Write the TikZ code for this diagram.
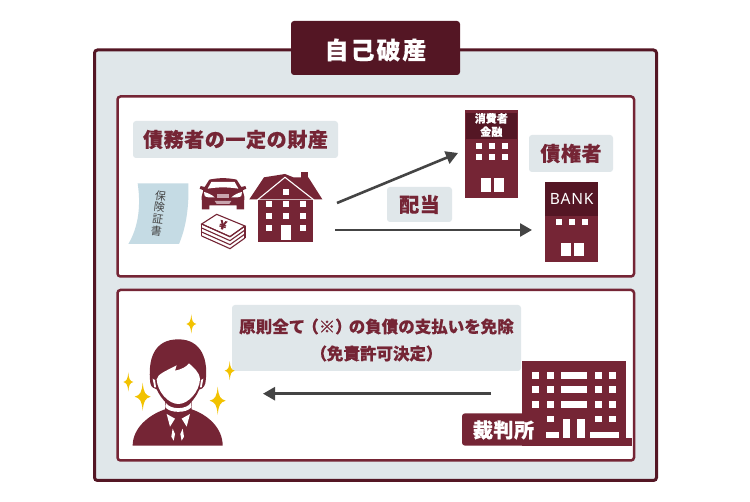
\documentclass[tikz,border=0pt]{standalone}
\usepackage{fontspec}
\setmainfont[BoldFeatures={FakeBold=0.4}]{Noto Sans CJK JP}
\newfontfamily\wide[LetterSpace=3,BoldFeatures={FakeBold=0.4}]{Noto Sans CJK JP}
\newfontfamily\wider[LetterSpace=8,BoldFeatures={FakeBold=0.4}]{Noto Sans CJK JP}
\newfontfamily\latin[LetterSpace=5,BoldFeatures={FakeBold=0.3}]{Noto Sans}
\usetikzlibrary{arrows.meta,calc}
\definecolor{wine}{HTML}{752535}
\definecolor{darkwine}{HTML}{541624}
\definecolor{mist}{HTML}{E0E7EA}
\definecolor{paper}{HTML}{C5DBE4}
\definecolor{spark}{HTML}{F2C200}
\definecolor{arrowgray}{HTML}{444444}
\definecolor{pinkish}{HTML}{C9A5AE}
\tikzset{
    outer/.style =  {fill=mist,
                    draw=darkwine,
                    line width=3pt,
                    rounded corners=3pt},
    panel/.style =  {fill=white,
                    draw=wine,
                    line width=2.5pt,
                    rounded corners=3pt},
    titlebox/.style = {rectangle,
                    rounded corners=3pt,
                    fill=darkwine,
                    inner sep=0pt,
                    minimum width=169pt,
                    minimum height=54pt},
    titletext/.style = {text=white,
                    inner sep=0pt,
                    font=\wider\fontsize{24}{28}\selectfont\bfseries},
    tag/.style =    {rectangle,
                    rounded corners=3pt,
                    fill=mist,
                    text=wine,
                    inner sep=0pt,
                    font=\wide\fontsize{20}{24}\selectfont\bfseries},
    notebox/.style = {rectangle,
                    rounded corners=3pt,
                    fill=mist,
                    inner sep=0pt,
                    minimum width=289pt,
                    minimum height=66pt},
    notetext/.style = {text=wine,
                    inner sep=0pt,
                    align=center,
                    font=\fontsize{16.5}{27}\selectfont\bfseries},
    flow/.style =   {draw=arrowgray,
                    line width=2.6pt,
                    -{Triangle[length=12pt,width=13pt]}},
    hole/.style =   {fill=white},
    body/.style =   {fill=wine},
    sparkle/.pic =  {\fill[spark] (0,-1) .. controls (0.12,-0.3) and (0.3,-0.12) .. (1,0)
                        .. controls (0.3,0.12) and (0.12,0.3) .. (0,1)
                        .. controls (-0.12,0.3) and (-0.3,0.12) .. (-1,0)
                        .. controls (-0.3,-0.12) and (-0.12,-0.3) .. (0,-1) -- cycle;},
}
\begin{document}
\begin{tikzpicture}[x=1pt,y=-1pt]
    \useasboundingbox (0,0) rectangle (750,502);
    \draw[outer] (94.5,50) rectangle (656.5,480.5);
    \draw[panel] (117.5,96.5) rectangle (634,276.5);
    \draw[panel] (117.5,290) rectangle (634,460.5);
    \node[titlebox] (head) at (375.5,48) {};
    \node[titletext] (headtext) at (375.5,50) {自己破産};
    \node[tag,minimum width=205pt,minimum height=37pt] (estate) at (235.5,139.5) {債務者の一定の財産};
    \node[tag,minimum width=84pt,minimum height=37pt] (creditors) at (571,153.5) {債権者};
    \node[tag,minimum width=65pt,minimum height=35pt] (dividend) at (419.5,204.5) {配当};
    \node[notebox] (relief) at (376.5,338) {};
    \node[notetext] (relieftext) at (376.5,340) {原則全て\kern-3pt（※）\kern-3pt の負債の支払いを免除\\（免責許可決定）};
    \coordinate (payA) at (337,203);
    \coordinate (payB) at (458,153);
    \coordinate (payC) at (335,230);
    \coordinate (payD) at (532,230);
    \coordinate (courtout) at (491,393.7);
    \coordinate (personin) at (263,393.7);
    \draw[flow] (payA) -- (payB);
    \draw[flow] (payC) -- (payD);
    \draw[flow] (courtout) -- (personin);
    % policy
    \begin{scope}[shift={(120,100)},scale=1/3]
        \fill[paper] (53,250) -- (205,250) .. controls (208,330) and (195,390) .. (177,432)
            -- (25,432) .. controls (50,390) and (65,330) .. (53,250) -- cycle;
    \end{scope}
    \node[rotate=-7,text=arrowgray,align=center,inner sep=0pt,
        font=\fontsize{11}{12}\selectfont] (policy) at (158.5,213.5) {保\\険\\証\\書};
    % car
    \begin{scope}[shift={(120,100)},scale=1/3]
        \fill[body] (268,239) .. controls (295,233) and (323,233) .. (350,239) -- (364,261)
            -- (376,258) -- (379,266) -- (368,271) -- (373,290) -- (372,328) -- (350,328)
            -- (350,316) -- (268,316) -- (268,328) -- (246,328) -- (245,290) -- (250,271)
            -- (239,266) -- (242,258) -- (254,261) -- cycle;
        \fill[hole] (274,246) -- (344,246) -- (355,266) .. controls (325,261) and (293,261) .. (263,266) -- cycle;
        \fill[hole] (252,276) .. controls (262,278) and (275,284) .. (284,292) .. controls (270,293) and (258,292) .. (254,288) -- cycle;
        \fill[hole] (366,276) .. controls (356,278) and (343,284) .. (334,292) .. controls (348,293) and (360,292) .. (364,288) -- cycle;
        \fill[pinkish] (290,282) rectangle (328,295);
        \fill[pinkish] (284,303) -- (334,303) -- (328,312) -- (290,312) -- cycle;
    % bills
        \filldraw[draw=wine,fill=white,line width=1.1pt] (290,343) -- (375,378) -- (330,410) -- (245,372) -- cycle;
        \foreach \dy in {0,12,24,36}
            \draw[wine,line width=1.1pt] (245,372+\dy) -- (330,410+\dy) -- (375,378+\dy);
        \draw[wine,line width=1.1pt] (245,372) -- (245,408) (375,378) -- (375,414);
    \end{scope}
    \node[text=wine,rotate=-15,inner sep=0pt,font=\fontsize{12}{12}\selectfont\bfseries] (yen) at (223,225) {¥};
    % house
    \begin{scope}[shift={(120,100)},scale=1/3]
        \fill[body] (542,216) rectangle (565,240);
        \fill[body] (495,222) -- (432,232) -- (388,298) -- (607,298) -- (565,232) -- (520,232) -- cycle;
        \fill[body] (414,300) rectangle (580,425);
        \draw[white,line width=1.1pt] (412,300) -- (495,232) -- (582,300);
        \foreach \wy in {304,340,376}
            \foreach \wx in {438,490,541}
                \fill[hole] (\wx,\wy) rectangle (\wx+18,\wy+18);
        \fill[hole] (490,266) rectangle (508,284);
        \fill[hole] (484,376) rectangle (514,420);
    \end{scope}
    % lenders
    \begin{scope}[shift={(450,100)},scale=1/3]
        \fill[body] (45,30) rectangle (203,293);
        \fill[darkwine] (48,40) rectangle (200,117);
        \foreach \wy in {128,163}
            \foreach \wx in {77,117,156}
                \fill[hole] (\wx,\wy) rectangle (\wx+18,\wy+18);
        \fill[hole] (92,235) rectangle (122,275);
        \fill[hole] (132,235) rectangle (162,275);
        \fill[body] (285,246) rectangle (443,485);
        \fill[darkwine] (285,246) rectangle (443,347);
        \foreach \wx in {317,358,397}
            \fill[hole] (\wx,356) rectangle (\wx+18,374);
        \fill[hole] (333,428) rectangle (362,467);
        \fill[hole] (373,428) rectangle (402,467);
    \end{scope}
    \node[text=white,align=center,inner sep=0pt,font=\fontsize{11}{13.4}\selectfont\bfseries] (credit) at (491.3,125) {消費者\\金融};
    \node[text=white,inner sep=0pt,font=\latin\fontsize{15.5}{16}\selectfont\bfseries] (bank) at (571.7,198.5) {BANK};
    % person
    \begin{scope}[shift={(120,300)},scale=1/3]
        \fill[body] (38,437) .. controls (38,385) and (85,345) .. (135,328) -- (135,300) -- (215,300) -- (215,328)
            .. controls (265,345) and (308,385) .. (308,437) -- cycle;
        \fill[body] (91,250) .. controls (83,180) and (100,118) .. (175,118)
            .. controls (245,118) and (267,180) .. (256,250)
            .. controls (252,265) and (242,268) .. (238,268) .. controls (225,300) and (200,325) .. (175,325)
            .. controls (150,325) and (125,300) .. (110,268) .. controls (102,266) and (94,262) .. (91,250) -- cycle;
        \fill[hole] (110,238) .. controls (112,222) and (140,212) .. (170,196) -- (165,212)
            .. controls (185,208) and (200,200) .. (207,190) .. controls (222,205) and (238,215) .. (240,238)
            .. controls (238,275) and (205,312) .. (175,312) .. controls (145,312) and (112,275) .. (110,238) -- cycle;
        \fill[hole] (98,236) -- (103,262) -- (108,262) -- (105,240) -- cycle;
        \fill[hole] (250,236) -- (245,262) -- (240,262) -- (243,240) -- cycle;
        \fill[hole] (137,308) .. controls (150,330) and (200,330) .. (213,308) -- (214,322)
            .. controls (200,340) and (150,340) .. (136,322) -- cycle;
        \fill[hole] (140,342) -- (165,356) -- (150,380) -- cycle;
        \fill[hole] (210,342) -- (185,356) -- (200,380) -- cycle;
        \fill[hole] (158,386) -- (165,402) -- (161,422) -- (154,410) -- cycle;
        \fill[hole] (188,386) -- (192,410) -- (185,422) -- (181,402) -- cycle;
    \end{scope}
    \pic[xscale=5,yscale=9.5] at (191.3,324) {sparkle};
    \pic[xscale=5,yscale=9.5] at (229.7,370.7) {sparkle};
    \pic[xscale=5,yscale=9.5] at (128.3,382) {sparkle};
    \pic[xscale=8,yscale=14] at (142.7,396.7) {sparkle};
    \pic[xscale=8,yscale=14] at (217.7,400.7) {sparkle};
    % court
    \begin{scope}[shift={(450,350)},scale=1/3]
        \fill[body] (217,32) rectangle (528,287);
        \fill[body] (280,265) rectangle (545,287);
        \fill[wine,rounded corners=3pt] (36,190) rectangle (285,287);
        \foreach \wy in {66,109,153} {
            \foreach \wx in {247,291,434,478}
                \fill[hole] (\wx,\wy) rectangle (\wx+21,\wy+21);
            \fill[hole] (334,\wy) rectangle (412,\wy+21);
        }
        \foreach \wx in {291,434,478}
            \fill[hole] (\wx,197) rectangle (\wx+21,217);
        \fill[hole] (340,208) rectangle (361,265);
        \fill[hole] (380,208) rectangle (405,265);
        \fill[hole] (288,245) rectangle (326,265);
        \fill[hole] (419,245) rectangle (506,265);
    \end{scope}
    \node[text=white,inner sep=0pt,font=\wide\fontsize{20}{22}\selectfont\bfseries] (court) at (503.5,430) {裁判所};
\end{tikzpicture}
\end{document}
